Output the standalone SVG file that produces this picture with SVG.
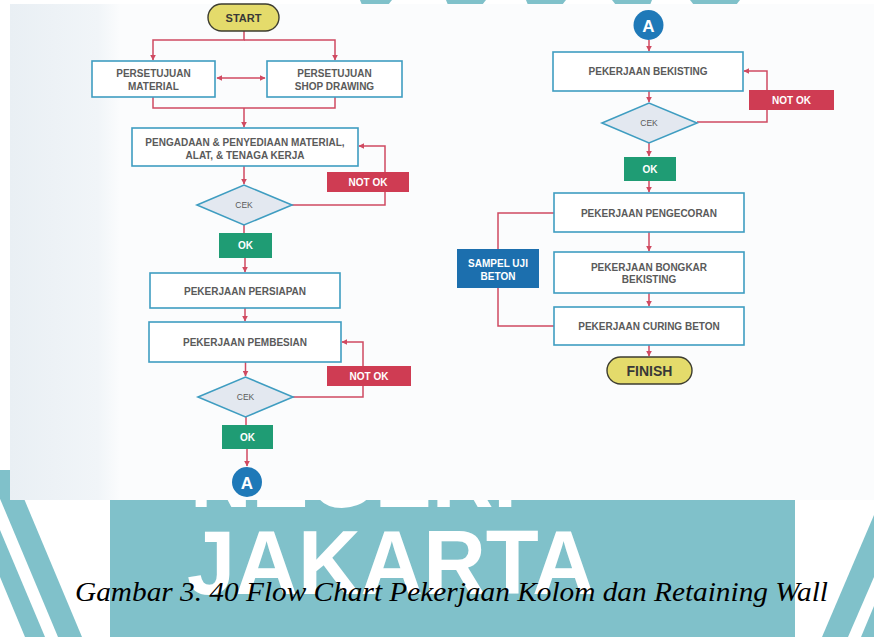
<svg xmlns="http://www.w3.org/2000/svg" width="874" height="637" viewBox="0 0 874 637">
<defs>
<style>
.bg{fill:#80c1ca}
.box{fill:#ffffff;stroke:#3f9dc1;stroke-width:1.6}
.dia{fill:#e3e8f0;stroke:#3f9dc1;stroke-width:1.6}
.pill{fill:#e4db6b;stroke:#3d3d30;stroke-width:1.4}
.conn{fill:none;stroke:#d04a61;stroke-width:1.5}
.t{font-family:"Liberation Sans",Arial,sans-serif;font-weight:bold;font-size:10px;fill:#5a5a5a;text-anchor:middle}
.w{font-family:"Liberation Sans",Arial,sans-serif;font-weight:bold;font-size:10px;fill:#ffffff;text-anchor:middle}
.nok{fill:#cf3c53}
.ok{fill:#1f9c74}
.circ{fill:#1f79b8}
.wm{font-family:"Liberation Sans",Arial,sans-serif;font-weight:bold;font-size:90px;fill:#ffffff}
</style>
<marker id="ah" viewBox="0 0 10 10" refX="9" refY="5" markerWidth="6" markerHeight="6" orient="auto-start-reverse" markerUnits="userSpaceOnUse">
<path d="M0,0 L10,5 L0,10 z" fill="#d04a61"/>
</marker>
<linearGradient id="lg" x1="0" y1="0" x2="1" y2="0">
<stop offset="0" stop-color="#e9eff4"/>
<stop offset="0.8" stop-color="#f1f5f8"/>
<stop offset="1" stop-color="#fbfcfd"/>
</linearGradient>
</defs>

<!-- watermark background -->
<rect x="0" y="0" width="874" height="637" fill="#ffffff"/>
<rect class="bg" x="110" y="440" width="685" height="197"/>
<polygon class="bg" points="-12,470 12,470 82,637 58,637"/>
<polygon class="bg" points="0,530 45,637 25,637 0,577"/>
<polygon class="bg" points="874,515 874,577 848,637 822,637"/>
<polygon class="bg" points="874,606 874,637 861,637"/>
<polygon class="bg" points="360,0 392,0 388,5 362,5"/>
<polygon class="bg" points="446,0 486,0 482,5 448,5"/>
<polygon class="bg" points="526,0 566,0 562,5 528,5"/>
<polygon class="bg" points="612,0 652,0 650,5 616,5"/>
<polygon class="bg" points="690,0 740,0 736,5 694,5"/>
<text class="wm" x="190" y="507" textLength="327" lengthAdjust="spacingAndGlyphs">NEGERI</text>
<text class="wm" x="187" y="594" textLength="408" lengthAdjust="spacingAndGlyphs">JAKARTA</text>

<!-- scanned page area -->
<rect x="10" y="4" width="864" height="496" fill="#fbfcfd"/>
<rect x="10" y="4" width="110" height="496" fill="url(#lg)"/>

<!-- connectors -->
<g id="connectors">
<path class="conn" d="M244 31 V40 H153 V60" marker-end="url(#ah)"/>
<path class="conn" d="M244 40 H335 V60" marker-end="url(#ah)"/>
<path class="conn" d="M217 78 H265" marker-start="url(#ah)" marker-end="url(#ah)"/>
<path class="conn" d="M153 97 V108 H335 V97"/>
<path class="conn" d="M244 108 V127" marker-end="url(#ah)"/>
<path class="conn" d="M244 166 V184" marker-end="url(#ah)"/>
<path class="conn" d="M292 205 H385 V146 H359" marker-end="url(#ah)"/>
<path class="conn" d="M244 225 V233"/>
<path class="conn" d="M245 258 V272" marker-end="url(#ah)"/>
<path class="conn" d="M245 308 V321" marker-end="url(#ah)"/>
<path class="conn" d="M245.5 362 V376" marker-end="url(#ah)"/>
<path class="conn" d="M293 397 H363 V342 H342" marker-end="url(#ah)"/>
<path class="conn" d="M246 417 V425"/>
<path class="conn" d="M247 449 V466" marker-end="url(#ah)"/>
<path class="conn" d="M649 40 V51" marker-end="url(#ah)"/>
<path class="conn" d="M649 91 V102" marker-end="url(#ah)"/>
<path class="conn" d="M697 122 H767 V71 H744" marker-end="url(#ah)"/>
<path class="conn" d="M649 143 V156" marker-end="url(#ah)"/>
<path class="conn" d="M649 181 V192" marker-end="url(#ah)"/>
<path class="conn" d="M649 232 V251" marker-end="url(#ah)"/>
<path class="conn" d="M649 293 V306" marker-end="url(#ah)"/>
<path class="conn" d="M649 345 V356" marker-end="url(#ah)"/>
<path class="conn" d="M554 213 H498 V326 H554"/>
</g>

<!-- left column nodes -->
<g id="start">
<rect class="pill" x="208" y="4" width="71" height="27" rx="13.5"/>
<text class="t" x="243.5" y="21.5" style="font-size:11px;fill:#383838">START</text>
</g>
<g id="persetujuan-material">
<rect class="box" x="92" y="61" width="123" height="36"/>
<text class="t" x="153.5" y="76.5">PERSETUJUAN</text>
<text class="t" x="153.5" y="89.5">MATERIAL</text>
</g>
<g id="persetujuan-shop-drawing">
<rect class="box" x="267" y="61" width="135" height="36"/>
<text class="t" x="334.5" y="76.5">PERSETUJUAN</text>
<text class="t" x="334.5" y="89.5">SHOP DRAWING</text>
</g>
<g id="pengadaan">
<rect class="box" x="132" y="128" width="226" height="38"/>
<text class="t" x="245" y="145.5">PENGADAAN &amp; PENYEDIAAN MATERIAL,</text>
<text class="t" x="245" y="158.5">ALAT, &amp; TENAGA KERJA</text>
</g>
<g id="cek-1">
<polygon class="dia" points="197,205 244,185 292,205 244,225"/>
<text class="t" x="244" y="208" style="font-size:8.5px;font-weight:normal">CEK</text>
</g>
<g id="not-ok-1">
<rect class="nok" x="327" y="172" width="82" height="20"/>
<text class="w" x="368" y="185.5">NOT OK</text>
</g>
<g id="ok-1">
<rect class="ok" x="219" y="233" width="53" height="25"/>
<text class="w" x="245.5" y="249">OK</text>
</g>
<g id="persiapan">
<rect class="box" x="150" y="273" width="190" height="35"/>
<text class="t" x="245" y="294.5">PEKERJAAN PERSIAPAN</text>
</g>
<g id="pembesian">
<rect class="box" x="149" y="322" width="192" height="40"/>
<text class="t" x="245" y="346">PEKERJAAN PEMBESIAN</text>
</g>
<g id="cek-2">
<polygon class="dia" points="198,397 245.5,377 293,397 245.5,417"/>
<text class="t" x="245.5" y="400" style="font-size:8.5px;font-weight:normal">CEK</text>
</g>
<g id="not-ok-2">
<rect class="nok" x="327" y="366" width="84" height="20"/>
<text class="w" x="369" y="379.5">NOT OK</text>
</g>
<g id="ok-2">
<rect class="ok" x="222" y="425" width="51" height="24"/>
<text class="w" x="247.5" y="440.5">OK</text>
</g>
<g id="connector-a-1">
<circle class="circ" cx="247" cy="482" r="15"/>
<text class="w" x="247" y="488.5" style="font-size:17px">A</text>
</g>

<!-- right column nodes -->
<g id="connector-a-2">
<circle class="circ" cx="648.5" cy="25" r="15"/>
<text class="w" x="648.5" y="31.5" style="font-size:17px">A</text>
</g>
<g id="bekisting">
<rect class="box" x="553" y="52" width="190" height="39"/>
<text class="t" x="648" y="75">PEKERJAAN BEKISTING</text>
</g>
<g id="cek-3">
<polygon class="dia" points="602,123 649,103 697,123 649,143"/>
<text class="t" x="649" y="126" style="font-size:8.5px;font-weight:normal">CEK</text>
</g>
<g id="not-ok-3">
<rect class="nok" x="749" y="90" width="85" height="20"/>
<text class="w" x="791.5" y="103.5">NOT OK</text>
</g>
<g id="ok-3">
<rect class="ok" x="624" y="157" width="52" height="24"/>
<text class="w" x="650" y="173">OK</text>
</g>
<g id="pengecoran">
<rect class="box" x="554" y="193" width="190" height="39"/>
<text class="t" x="649" y="216.5">PEKERJAAN PENGECORAN</text>
</g>
<g id="bongkar-bekisting">
<rect class="box" x="554" y="252" width="190" height="41"/>
<text class="t" x="649" y="270.5">PEKERJAAN BONGKAR</text>
<text class="t" x="649" y="282.5">BEKISTING</text>
</g>
<g id="curing-beton">
<rect class="box" x="554" y="307" width="190" height="38"/>
<text class="t" x="649" y="330">PEKERJAAN CURING BETON</text>
</g>
<g id="sampel-uji-beton">
<rect x="457" y="249" width="82" height="39" fill="#1c6fae"/>
<text class="w" x="498" y="266.5">SAMPEL UJI</text>
<text class="w" x="498" y="279.5">BETON</text>
</g>
<g id="finish">
<rect class="pill" x="607" y="357" width="85" height="27" rx="13.5"/>
<text class="t" x="649.5" y="375.5" style="font-size:14px;fill:#383838">FINISH</text>
</g>

<!-- caption -->
<text x="75" y="601" textLength="753" lengthAdjust="spacingAndGlyphs" style="font-family:'Liberation Serif','Times New Roman',serif;font-style:italic;font-size:28px;fill:#000000">Gambar 3. 40 Flow Chart Pekerjaan Kolom dan Retaining Wall</text>
</svg>
